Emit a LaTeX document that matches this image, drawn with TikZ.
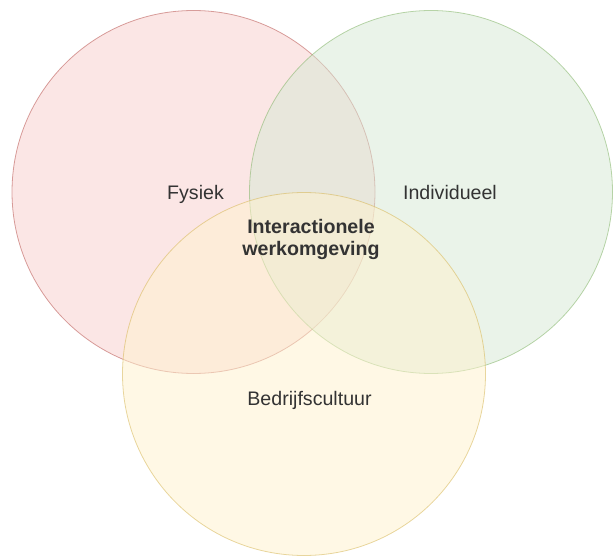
\documentclass[tikz,border=0pt]{standalone}
\usepackage{fontspec}
\setmainfont{Liberation Sans}
\definecolor{redfill}{HTML}{F8CECC}
\definecolor{reddraw}{HTML}{B85450}
\definecolor{greenfill}{HTML}{D5E8D4}
\definecolor{greendraw}{HTML}{82B366}
\definecolor{yellowfill}{HTML}{FFF2CC}
\definecolor{yellowdraw}{HTML}{D6B656}
\definecolor{textgray}{HTML}{333333}
\tikzset{
	setcircle/.style={circle, minimum size=363pt, inner sep=0pt, line width=0.8pt, fill opacity=0.5, draw opacity=0.55},
	setlabel/.style={text=textgray, font=\fontsize{19.6}{22}\selectfont, align=center, inner sep=0pt}
}

\begin{document}
\begin{tikzpicture}[x=1pt,y=-1pt]
			\useasboundingbox (0,0) rectangle (613,556);
			\node (fysiek) [setcircle, draw=reddraw, fill=redfill] at (193.5,192) {};
			\node (individueel) [setcircle, draw=greendraw, fill=greenfill] at (431,192) {};
			\node (bedrijf) [setcircle, draw=yellowdraw, fill=yellowfill] at (304,374) {};
			\node (fysiektxt) [setlabel, anchor=base] at (195.5,200) {Fysiek};
			\node (individueeltxt) [setlabel, anchor=base] at (450,200) {Individueel};
			\node (bedrijftxt) [setlabel, anchor=base] at (309.5,405.5) {Bedrijfscultuur};
			\node (midden) [setlabel, font=\bfseries\fontsize{19.6}{22}\selectfont] at (311,239) {Interactionele\\werkomgeving};
		\end{tikzpicture}
\end{document}
